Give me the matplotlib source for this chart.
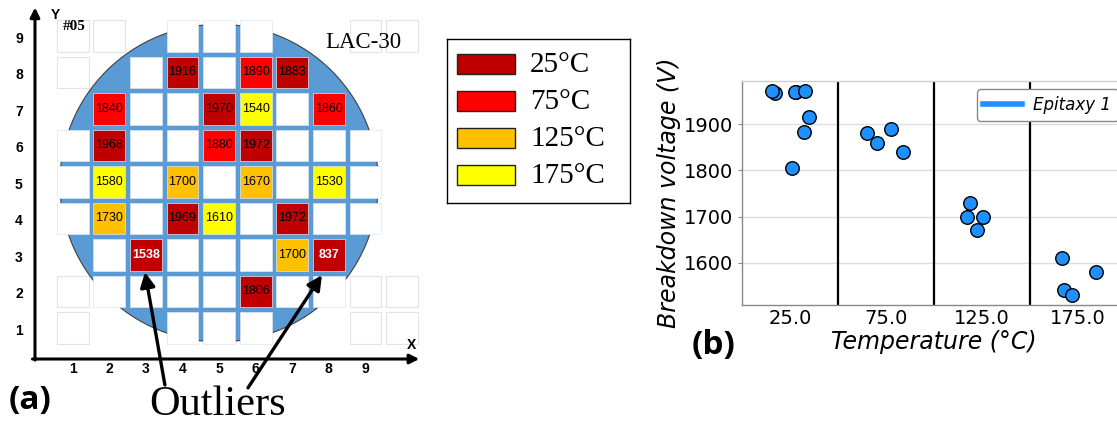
import numpy as np
import matplotlib.pyplot as plt
from matplotlib.patches import Rectangle, Circle
from matplotlib.lines import Line2D

# ---- wafer map (a): measured dies, column / row / breakdown voltage / temperature
die_col = [4, 6, 7, 2, 5, 6, 8, 2, 5, 6, 2, 4, 6, 8, 2, 4, 5, 7, 3, 7, 8, 6]
die_row = [8, 8, 8, 7, 7, 7, 7, 6, 6, 6, 5, 5, 5, 5, 4, 4, 4, 4, 3, 3, 3, 2]
die_vbr = [1916, 1890, 1883, 1840, 1970, 1540, 1860, 1968, 1880, 1972,
           1580, 1700, 1670, 1530, 1730, 1969, 1610, 1972, 1538, 1700, 837, 1806]
die_temp = [25, 75, 25, 75, 25, 175, 75, 25, 75, 25,
            175, 125, 125, 175, 125, 25, 175, 25, 25, 125, 25, 25]
outliers = [(3, 3), (8, 3)]

# die sites on the wafer: first and last column of each row
row_span = {9: (4, 6), 8: (3, 7), 7: (2, 8), 6: (1, 9), 5: (1, 9),
            4: (1, 9), 3: (2, 8), 2: (2, 8), 1: (4, 6)}
# empty reticle frames left outside the wafer
off_cols = [1, 2, 9, 10, 1, 1, 9, 10, 1, 9, 10]
off_rows = [9, 9, 9, 9, 8, 2, 2, 2, 1, 1, 1]

temps = [25, 75, 125, 175]
temp_labels = ["25°C", "75°C", "125°C", "175°C"]
temp_colors = ["#c00000", "#ff0000", "#ffc000", "#ffff00"]

# ---- strip plot (b)
strip_temp = [25, 25, 25, 25, 25, 25, 25, 25, 75, 75, 75, 75,
              125, 125, 125, 125, 175, 175, 175, 175]
strip_vbr = [1968, 1972, 1970, 1969, 1972, 1916, 1883, 1806, 1880, 1860, 1890, 1840,
             1730, 1700, 1700, 1670, 1610, 1540, 1530, 1580]
strip_jitter = [-0.16, -0.19, 0.06, 0.045, 0.155, 0.2, 0.145, 0.015, -0.2, -0.1, 0.055, 0.18,
                -0.13, -0.155, 0.005, -0.05, -0.165, -0.15, -0.06, 0.185]

W, H = 1117, 425
fig = plt.figure(figsize=(W / 100, H / 100), dpi=100)

# ================= panel (a) =================
ax = fig.add_axes([0, 0, 420 / W, 1])
ax.set_xlim(-0.986, 10.49)
ax.set_ylim(-1.658, 9.986)
ax.axis("off")
h = 0.433

for c, r in zip(off_cols, off_rows):
    ax.add_patch(Rectangle((c - h, r - h), 2 * h, 2 * h, fc="white",
                           ec="#e3e3e3", lw=0.8, zorder=1))

ax.add_patch(Circle((5, 4.97), 4.35, fc="#5b9bd5", ec="#404040", lw=0.8, zorder=2))

meas = {(c, r): (v, t) for c, r, v, t in zip(die_col, die_row, die_vbr, die_temp)}
for r, (c0, c1) in row_span.items():
    for c in range(c0, c1 + 1):
        if (c, r) in meas:
            v, t = meas[(c, r)]
            fc = temp_colors[temps.index(t)]
        else:
            fc = "white"
        ax.add_patch(Rectangle((c - h, r - h), 2 * h, 2 * h, fc=fc,
                               ec="#dce6f2", lw=0.5, zorder=3))
        if (c, r) in meas:
            if (c, r) in outliers:
                ax.text(c, r, str(v), ha="center", va="center", fontsize=9,
                        family="Liberation Sans", weight="bold", color="white", zorder=4)
            else:
                ax.text(c, r, str(v), ha="center", va="center", fontsize=9,
                        family="Liberation Sans", color="black", zorder=4)

# coordinate axes with arrows
ax.annotate("", xy=(-0.03, 9.78), xytext=(-0.03, 0.12),
            arrowprops=dict(arrowstyle="-|>", lw=2.2, color="black", mutation_scale=14,
                            shrinkA=0, shrinkB=0), annotation_clip=False)
ax.annotate("", xy=(10.47, 0.15), xytext=(-0.1, 0.15),
            arrowprops=dict(arrowstyle="-|>", lw=2.2, color="black", mutation_scale=14,
                            shrinkA=0, shrinkB=0), annotation_clip=False)
for i in range(1, 10):
    ax.text(-0.47, i - 0.08, str(i), ha="center", va="center", fontsize=10,
            family="Liberation Sans", weight="bold")
    ax.text(i, -0.12, str(i), ha="center", va="center", fontsize=10,
            family="Liberation Sans", weight="bold")
ax.text(0.53, 9.58, "Y", ha="center", va="center", fontsize=10,
        family="Liberation Sans", weight="bold")
ax.text(10.27, 0.54, "X", ha="center", va="center", fontsize=10,
        family="Liberation Sans", weight="bold")
ax.text(0.73, 9.25, "#05", ha="left", va="center", fontsize=11,
        family="Liberation Serif", weight="bold", zorder=5)
ax.text(7.9, 8.82, "LAC-30", ha="left", va="center", fontsize=16.5,
        family="Liberation Serif", zorder=5)

# outlier arrows
ax.annotate("", xy=(2.975, 2.53), xytext=(3.52, -0.56),
            arrowprops=dict(arrowstyle="-|>", lw=2.4, color="black", mutation_scale=22,
                            shrinkA=0, shrinkB=0), zorder=6)
ax.annotate("", xy=(7.81, 2.45), xytext=(5.79, -0.64),
            arrowprops=dict(arrowstyle="-|>", lw=2.4, color="black", mutation_scale=22,
                            shrinkA=0, shrinkB=0), zorder=6)
ax.text(4.97, -1.64, "Outliers", ha="center", va="bottom", fontsize=30.5,
        family="Liberation Serif", zorder=6)

# temperature legend box
lax = fig.add_axes([447 / W, 1 - 203 / H, 183 / W, 164 / H])
lax.set_xlim(0, 183)
lax.set_ylim(164, 0)
lax.set_xticks([])
lax.set_yticks([])
for s in lax.spines.values():
    s.set_color("black")
    s.set_linewidth(1.0)
for i, (lab, col) in enumerate(zip(temp_labels, temp_colors)):
    yc = 25 + i * 37.1
    lax.add_patch(Rectangle((10, yc - 10), 58, 20, fc=col, ec="#222222", lw=1.0))
    lax.text(83, yc + 1, lab, ha="left", va="center", fontsize=21, family="Liberation Serif")

fig.text(9 / W, 1 - 401 / H, "(a)", ha="left", va="center", fontsize=24,
         family="Open Sans", weight="bold")

# ================= panel (b) =================
bx = fig.add_axes([742.3 / W, 1 - 305.3 / H, (1126 - 742.3) / W, (305.3 - 80.7) / H])
xs = [temps.index(t) + j for t, j in zip(strip_temp, strip_jitter)]
bx.scatter(xs, strip_vbr, s=95, color="#1e90ff", edgecolor="black", linewidth=1.0, zorder=3)
bx.set_xlim(-0.5, len(temps) - 0.5)
bx.margins(y=0.05)
for k in range(1, len(temps)):
    bx.axvline(k - 0.5, color="black", lw=1.6, zorder=2)
bx.set_xticks(range(len(temps)))
bx.set_xticklabels([f"{float(t):.1f}" for t in temps])
bx.set_yticks([1600, 1700, 1800, 1900])
bx.tick_params(labelsize=14, length=3, color="#888888")
bx.tick_params(axis="x", length=0, pad=3)
bx.grid(axis="y", color="#dddddd", lw=1.0, zorder=0)
bx.set_axisbelow(True)
for name, s in bx.spines.items():
    s.set_color("#888888" if name in ("left", "bottom") else "#cccccc")
    s.set_linewidth(1.0)
bx.set_ylabel("Breakdown voltage (V)", fontsize=17, style="italic", labelpad=2)
bx.set_xlabel("Temperature (°C)", fontsize=17, style="italic", labelpad=1)
handle = Line2D([], [], color="#1e90ff", lw=4)
bx.legend([handle], ["Epitaxy 1"], loc="upper left",
          bbox_to_anchor=(976.7 / W, 1 - 89.3 / H), bbox_transform=fig.transFigure,
          borderaxespad=0, prop={"size": 12, "style": "italic"}, framealpha=1,
          edgecolor="#888888", handlelength=2.3, handletextpad=0.7)

fig.text(692 / W, 1 - 345.5 / H, "(b)", ha="left", va="center", fontsize=24,
         family="Open Sans", weight="bold")

fig.savefig("out.png", dpi=100)
